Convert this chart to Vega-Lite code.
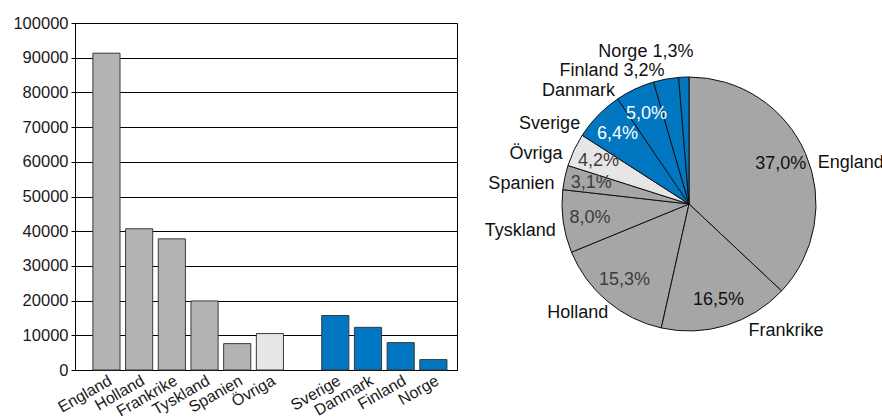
{
  "$schema": "https://vega.github.io/schema/vega-lite/v6.json",
  "background": "white",
  "padding": {"left": 12, "top": 14, "right": 0, "bottom": 0},
  "bounds": "flush",
  "spacing": 100,
  "config": {
    "font": "Liberation Sans",
    "view": {"stroke": null},
    "axis": {"labelFont": "Liberation Sans", "labelColor": "#1a1a1a"}
  },
  "datasets": {
    "trade": [
      {"land": "England", "varde": 91300, "andel": 37.0, "andelText": "37,0%", "etikett": "England", "typ": "Utland", "ordning": 1},
      {"land": "Holland", "varde": 40700, "andel": 15.3, "andelText": "15,3%", "etikett": "Holland", "typ": "Utland", "ordning": 3},
      {"land": "Frankrike", "varde": 37800, "andel": 16.5, "andelText": "16,5%", "etikett": "Frankrike", "typ": "Utland", "ordning": 2},
      {"land": "Tyskland", "varde": 19900, "andel": 8.0, "andelText": "8,0%", "etikett": "Tyskland", "typ": "Utland", "ordning": 4},
      {"land": "Spanien", "varde": 7600, "andel": 3.1, "andelText": "3,1%", "etikett": "Spanien", "typ": "Utland", "ordning": 5},
      {"land": "Övriga", "varde": 10500, "andel": 4.2, "andelText": "4,2%", "etikett": "Övriga", "typ": "Övriga", "ordning": 6},
      {"land": "Sverige", "varde": 15700, "andel": 6.4, "andelText": "6,4%", "etikett": "Sverige", "typ": "Norden", "ordning": 7},
      {"land": "Danmark", "varde": 12300, "andel": 5.0, "andelText": "5,0%", "etikett": "Danmark", "typ": "Norden", "ordning": 8},
      {"land": "Finland", "varde": 7900, "andel": 3.2, "andelText": "3,2%", "etikett": "Finland 3,2%", "typ": "Norden", "ordning": 9},
      {"land": "Norge", "varde": 3000, "andel": 1.3, "andelText": "1,3%", "etikett": "Norge 1,3%", "typ": "Norden", "ordning": 10}
    ]
  },
  "resolve": {"scale": {"color": "independent", "theta": "independent"}},
  "hconcat": [
    {
      "width": 382,
      "height": 347,
      "view": {"stroke": "black", "strokeWidth": 1},
      "data": {"name": "trade"},
      "mark": {"type": "bar", "stroke": "#3a3a3a", "strokeWidth": 1},
      "encoding": {
        "x": {
          "field": "land",
          "type": "nominal",
          "sort": null,
          "scale": {
            "domain": ["England", "Holland", "Frankrike", "Tyskland", "Spanien", "Övriga", " ", "Sverige", "Danmark", "Finland", "Norge"],
            "paddingInner": 0.17,
            "paddingOuter": 0.4275,
            "align": 0.64
          },
          "axis": {
            "title": null,
            "ticks": false,
            "domainColor": "black",
            "domainWidth": 1,
            "labelAngle": -30,
            "labelAlign": "right",
            "labelBaseline": "top",
            "labelFontSize": 16,
            "labelPadding": 2,
            "labelOverlap": false
          }
        },
        "y": {
          "field": "varde",
          "type": "quantitative",
          "scale": {"domain": [0, 100000], "nice": false},
          "axis": {
            "title": null,
            "values": [0, 10000, 20000, 30000, 40000, 50000, 60000, 70000, 80000, 90000, 100000],
            "format": "d",
            "grid": true,
            "gridColor": "black",
            "gridOpacity": 1,
            "gridWidth": 1,
            "domainColor": "black",
            "tickColor": "black",
            "tickSize": 4,
            "labelFontSize": 16.5,
            "labelPadding": 3
          }
        },
        "color": {
          "field": "typ",
          "type": "nominal",
          "scale": {"domain": ["Utland", "Övriga", "Norden"], "range": ["#b3b3b3", "#e6e6e6", "#0077c0"]},
          "legend": null
        }
      }
    },
    {
      "width": 264,
      "height": 362,
      "view": {"stroke": null},
      "data": {"name": "trade"},
      "encoding": {
        "theta": {"field": "andel", "type": "quantitative", "stack": true},
        "order": {"field": "ordning", "type": "quantitative", "sort": "ascending"}
      },
      "layer": [
        {
          "mark": {"type": "arc", "outerRadius": 127, "stroke": "#111111", "strokeWidth": 1},
          "encoding": {
            "color": {
              "field": "typ",
              "type": "nominal",
              "scale": {"domain": ["Utland", "Övriga", "Norden"], "range": ["#a6a6a6", "#e6e6e6", "#0077c0"]},
              "legend": null
            }
          }
        },
        {
          "mark": {"type": "text", "radius": 100, "fontSize": 18, "align": "center", "baseline": "middle"},
          "encoding": {
            "text": {"condition": {"test": "datum.land != 'Finland' && datum.land != 'Norge'", "field": "andelText"}, "value": ""},
            "color": {
              "condition": [
                {"test": "datum.land == 'Sverige' || datum.land == 'Danmark'", "value": "white"},
                {"test": "datum.land == 'England' || datum.land == 'Frankrike'", "value": "#111111"}
              ],
              "value": "#3d3d3d"
            }
          }
        },
        {
          "mark": {"type": "text", "radius": 135, "thetaOffset": 0.1, "fontSize": 18, "align": "left", "baseline": "middle", "color": "#111111"},
          "encoding": {"text": {"condition": {"test": "datum.land == 'England'", "field": "etikett"}, "value": ""}}
        },
        {
          "mark": {"type": "text", "radius": 140, "thetaOffset": -0.14, "fontSize": 18, "align": "left", "baseline": "middle", "color": "#111111"},
          "encoding": {"text": {"condition": {"test": "datum.land == 'Frankrike'", "field": "etikett"}, "value": ""}}
        },
        {
          "mark": {"type": "text", "radius": 136, "thetaOffset": -0.065, "fontSize": 18, "align": "right", "baseline": "middle", "color": "#111111"},
          "encoding": {"text": {"condition": {"test": "indexof(['Holland','Tyskland','Spanien','Övriga'], datum.land) >= 0", "field": "etikett"}, "value": ""}}
        },
        {
          "mark": {"type": "text", "radius": 135, "thetaOffset": -0.14, "fontSize": 18, "align": "right", "baseline": "middle", "color": "#111111"},
          "encoding": {"text": {"condition": {"test": "datum.land == 'Sverige' || datum.land == 'Danmark'", "field": "etikett"}, "value": ""}}
        },
        {
          "mark": {"type": "text", "radius": 135, "fontSize": 18, "align": "right", "baseline": "middle", "color": "#111111"},
          "encoding": {"text": {"condition": {"test": "datum.land == 'Finland'", "field": "etikett"}, "value": ""}}
        },
        {
          "mark": {"type": "text", "radius": 152, "thetaOffset": 0.07, "fontSize": 18, "align": "right", "baseline": "middle", "color": "#111111"},
          "encoding": {"text": {"condition": {"test": "datum.land == 'Norge'", "field": "etikett"}, "value": ""}}
        }
      ]
    }
  ]
}
